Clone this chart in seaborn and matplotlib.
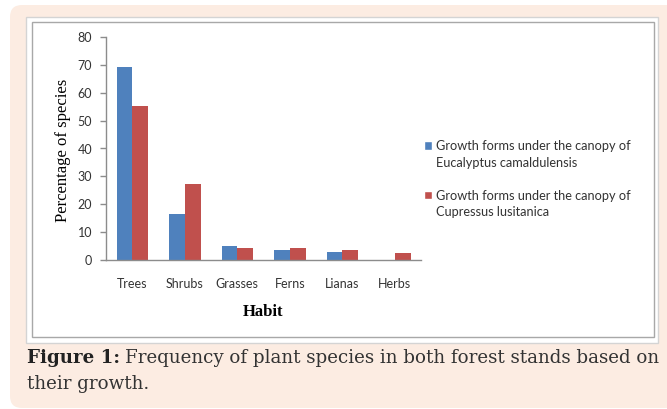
import numpy as np
import pandas as pd
import matplotlib.pyplot as plt
import seaborn as sns
from matplotlib.patches import FancyBboxPatch, Rectangle, Patch
from matplotlib.transforms import IdentityTransform

habits = ['Trees', 'Shrubs', 'Grasses', 'Ferns', 'Lianas', 'Herbs']
eucalyptus = [69.3, 16.5, 5.0, 3.6, 3.0, 0.0]
cupressus = [55.4, 27.1, 4.4, 4.2, 3.6, 2.4]
series_names = ['Growth forms under the canopy of\nEucalyptus camaldulensis',
                'Growth forms under the canopy of\nCupressus lusitanica']
yticks = [0, 10, 20, 30, 40, 50, 60, 70, 80]
colors = ['#4F81BD', '#C0504D']

caption_bold = 'Figure 1:'
caption_line1 = 'Frequency of plant species in both forest stands based on'
caption_line2 = 'their growth.'

df = pd.DataFrame({
    'habit': habits * 2,
    'pct': eucalyptus + cupressus,
    'forest': [series_names[0]] * len(habits) + [series_names[1]] * len(habits),
})

sns.set_theme(style='white')
plt.rcParams['font.family'] = ['Lato', 'DejaVu Sans']

W, H = 667, 409
fig = plt.figure(figsize=(W / 100, H / 100), dpi=100)
fig.patch.set_facecolor('white')


def fx(px):
    return px / W


def fy(py):
    return 1 - py / H


# peach page background with rounded corners, then the white chart frame
bg = FancyBboxPatch((10, H - 408), 720, 403, boxstyle='round,pad=0,rounding_size=12',
                    transform=IdentityTransform(), facecolor='#FCECE2', edgecolor='none',
                    zorder=-3)
fig.patches.append(bg)
frame = Rectangle((26, H - 343), 658 - 26, 343 - 17, transform=IdentityTransform(),
                  facecolor='white', edgecolor='#D4D4D4', linewidth=1, zorder=-2)
fig.patches.append(frame)
inner = Rectangle((32, H - 337), 654 - 32, 337 - 22, transform=IdentityTransform(),
                  facecolor='none', edgecolor='#A8A8A8', linewidth=1, zorder=-1)
fig.patches.append(inner)

ax = fig.add_axes([fx(106), fy(260), (421 - 106) / W, (260 - 37) / H])
ax.patch.set_alpha(0)

sns.barplot(data=df, x='habit', y='pct', hue='forest', palette=colors,
            width=0.6, gap=0, saturation=1, linewidth=0, legend=False, ax=ax)

ax.set_xlim(-0.5, len(habits) - 0.5)
ax.set_ylim(0, 80)
ax.set_yticks(yticks)
for side in ['top', 'right']:
    ax.spines[side].set_visible(False)
for side in ['left', 'bottom']:
    ax.spines[side].set_color('#8C8C8C')
    ax.spines[side].set_linewidth(1)
ax.tick_params(axis='y', left=True, length=4, width=1, color='#8C8C8C', pad=6,
               labelsize=9, labelcolor='#333333')
ax.tick_params(axis='x', bottom=False, length=0, pad=13, labelsize=9, labelcolor='#333333')

ax.set_xlabel('Habit', fontfamily='Liberation Serif', fontweight='bold', fontsize=12, color='black')
ax.xaxis.set_label_coords((263 - 106) / 315, (260 - 304) / 223)
ax.set_ylabel('Percentage of species', fontfamily='Liberation Serif', fontsize=12, color='black')
ax.yaxis.set_label_coords((71 - 106) / 315, (260 - 150) / 223)

# legend: handle sits on the first line of each entry
line_a, line_b = series_names[0].split('\n')
line_c, line_d = series_names[1].split('\n')
blank = Patch(facecolor='none', edgecolor='none')
handles = [Patch(facecolor=colors[0]), blank, blank, Patch(facecolor=colors[1]), blank]
labels = [line_a, line_b, ' ', line_c, line_d]
fig.legend(handles, labels, loc='upper left', bbox_to_anchor=(fx(424), fy(140)),
           frameon=False, borderpad=0, borderaxespad=0, handlelength=0.6,
           handleheight=0.6, handletextpad=0.35, labelspacing=0.36, fontsize=9.2,
           labelcolor='#333333')

# caption below the frame
cap_fs = 12
renderer = fig.canvas.get_renderer()
t_bold = fig.text(fx(27), fy(363), caption_bold, fontfamily='DejaVu Serif', fontweight='bold',
                  fontsize=cap_fs, va='baseline', color='#222222')
bb = t_bold.get_window_extent(renderer)
t_rest = fig.text((bb.x1 + 0.3 * cap_fs * 100 / 72) / W, fy(363), caption_line1,
                  fontfamily='DejaVu Serif', fontsize=cap_fs, va='baseline', color='#333333')
bb2 = t_rest.get_window_extent(renderer)
scale = (657 - 27) / (bb2.x1 - bb.x0)
cap_fs = cap_fs * scale
t_bold.set_fontsize(cap_fs)
bb = t_bold.get_window_extent(renderer)
t_rest.set_fontsize(cap_fs)
t_rest.set_x((bb.x1 + 0.3 * cap_fs * 100 / 72) / W)
fig.text(fx(27), fy(389), caption_line2, fontfamily='DejaVu Serif', fontsize=cap_fs,
         va='baseline', color='#333333')

fig.savefig('out.png', dpi=100)
